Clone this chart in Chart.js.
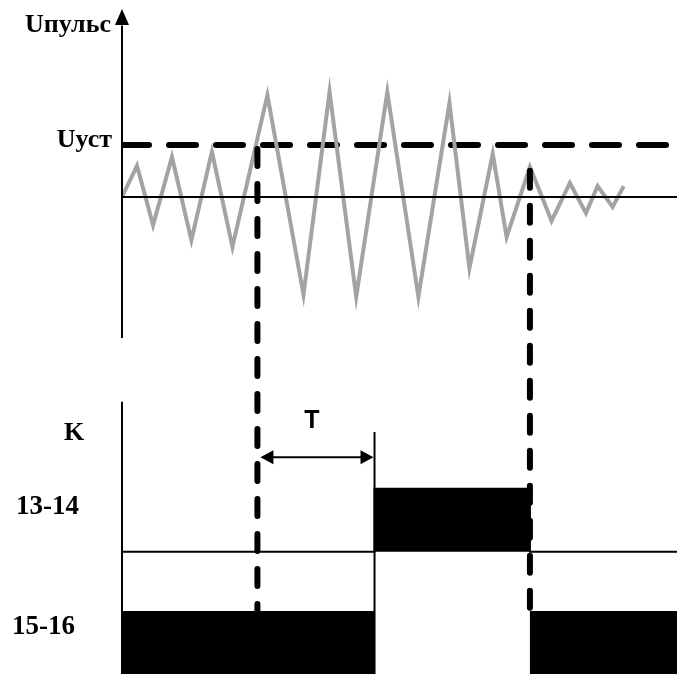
<!DOCTYPE html>
<html>
<head>
<meta charset="utf-8">
<script src="https://cdn.jsdelivr.net/npm/chart.js@4"></script>
<style>
  html, body { margin: 0; padding: 0; background: #fff; }
  canvas { display: block; }
</style>
</head>
<body>
<canvas id="relayChart" width="677" height="674"></canvas>
<script>
// time axis in ms, pulse voltage in units of Uуст
const timeMs = [0, 2.7, 5.6, 9.0, 12.5, 16.2, 19.9, 26.2, 32.7, 37.4, 42.2, 47.8, 53.4, 59.0, 62.6, 66.8, 69.3, 73.5, 77.4, 80.7, 83.6, 85.7, 88.4, 90.4];
const pulseU = [0, 0.60, -0.54, 0.77, -0.83, 0.87, -0.96, 1.96, -1.88, 2.02, -1.92, 2.02, -1.92, 1.81, -1.37, 0.83, -0.77, 0.58, -0.46, 0.27, -0.31, 0.21, -0.19, 0.21];
const uSet = 1;

// relay contacts: switching moments and state on each interval
const relayTimes = [0, 45.5, 73.5, 100];
const relay1314 = [0, 1, 0];
const relay1516 = [1, 0, 1];
const relayLabels = ["13-14", "15-16"];

// moment U crosses Uуст, delay T, moment of release
const pickupTime = 24.4;
const delayT = 21.1;
const releaseTime = 73.5;
const releaseU = 0.58;

// vertical placement of the lanes on the relay axis
const LANE_1314 = 1.94;
const LANE_1516 = 0;

function relayPoints(states, base) {
  const pts = [];
  states.forEach((s, i) => {
    pts.push({ x: relayTimes[i], y: base + s });
    pts.push({ x: relayTimes[i + 1], y: base + s });
  });
  return pts;
}

const overlay = {
  id: "overlay",
  afterDatasetsDraw(chart) {
    const { ctx } = chart;
    const { x, yU, yK } = chart.scales;
    const x0 = x.getPixelForValue(0);

    ctx.save();
    ctx.strokeStyle = "#000";
    ctx.fillStyle = "#000";

    // vertical axes
    ctx.lineWidth = 2;
    ctx.beginPath();
    ctx.moveTo(x0, yU.getPixelForValue(3.3));
    ctx.lineTo(x0, yU.getPixelForValue(-2.71));
    ctx.moveTo(x0, yK.getPixelForValue(4.32));
    ctx.lineTo(x0, yK.getPixelForValue(0));
    ctx.stroke();

    // arrow on the U axis
    const tip = yU.getPixelForValue(3.615);
    ctx.beginPath();
    ctx.moveTo(x0, tip);
    ctx.lineTo(x0 - 7, tip + 16);
    ctx.lineTo(x0 + 7, tip + 16);
    ctx.closePath();
    ctx.fill();

    // dashed verticals from the pulse to the relay
    ctx.lineWidth = 6;
    ctx.lineCap = "round";
    ctx.setLineDash([17, 18]);
    [[pickupTime, uSet], [releaseTime, releaseU]].forEach(([t, u]) => {
      const px = x.getPixelForValue(t);
      ctx.beginPath();
      ctx.moveTo(px, yU.getPixelForValue(u) + 4);
      ctx.lineTo(px, yK.getPixelForValue(1));
      ctx.stroke();
    });
    ctx.setLineDash([]);
    ctx.lineCap = "butt";

    // T marker line and double arrow
    const tEnd = x.getPixelForValue(pickupTime + delayT);
    ctx.lineWidth = 2;
    ctx.beginPath();
    ctx.moveTo(tEnd, yK.getPixelForValue(3.84));
    ctx.lineTo(tEnd, yK.getPixelForValue(0));
    ctx.stroke();

    const ay = yK.getPixelForValue(3.44);
    const aL = x.getPixelForValue(pickupTime) + 3;
    const aR = tEnd - 1;
    ctx.beginPath();
    ctx.moveTo(aL + 10, ay);
    ctx.lineTo(aR - 10, ay);
    ctx.stroke();
    ctx.beginPath();
    ctx.moveTo(aL, ay);
    ctx.lineTo(aL + 13, ay - 7);
    ctx.lineTo(aL + 13, ay + 7);
    ctx.closePath();
    ctx.moveTo(aR, ay);
    ctx.lineTo(aR - 13, ay - 7);
    ctx.lineTo(aR - 13, ay + 7);
    ctx.closePath();
    ctx.fill();

    // labels
    ctx.textBaseline = "alphabetic";
    ctx.textAlign = "right";
    ctx.font = "bold 26px 'Liberation Serif', serif";
    ctx.fillText("Uпульс", 111, 32);
    ctx.fillText("Uуст", 112, yU.getPixelForValue(uSet) + 2);
    ctx.textAlign = "left";
    ctx.fillText("K", 64, 440);
    ctx.font = "bold 27px 'Liberation Serif', serif";
    ctx.fillText(relayLabels[0], 16, 514);
    ctx.fillText(relayLabels[1], 12, 634);

    ctx.textAlign = "center";
    ctx.font = "bold 25px 'Liberation Sans', sans-serif";
    ctx.fillText("T", (aL + aR) / 2 - 5, 428);

    ctx.restore();
  }
};

new Chart(document.getElementById("relayChart"), {
  type: "line",
  data: {
    datasets: [
      {
        label: "base",
        data: [{ x: 0, y: 0 }, { x: 100, y: 0 }],
        yAxisID: "yU",
        borderColor: "#000",
        borderWidth: 2,
        order: 1
      },
      {
        label: "U пульс",
        data: timeMs.map((t, i) => ({ x: t, y: pulseU[i] })),
        yAxisID: "yU",
        borderColor: "#a3a3a3",
        borderWidth: 4,
        order: 2
      },
      {
        label: "U уст",
        data: [{ x: 0, y: uSet }, { x: 100, y: uSet }],
        yAxisID: "yU",
        borderColor: "#000",
        borderWidth: 6,
        borderDash: [27, 20],
        borderCapStyle: "round",
        order: 3
      },
      {
        label: relayLabels[0],
        data: relayPoints(relay1314, LANE_1314),
        yAxisID: "yK",
        borderColor: "#000",
        borderWidth: 2,
        backgroundColor: "#000",
        fill: { value: LANE_1314 },
        order: 4
      },
      {
        label: relayLabels[1],
        data: relayPoints(relay1516, LANE_1516),
        yAxisID: "yK",
        borderColor: "rgba(0,0,0,0)",
        borderWidth: 0,
        backgroundColor: "#000",
        fill: { value: LANE_1516 },
        order: 5
      }
    ]
  },
  options: {
    responsive: false,
    animation: false,
    events: [],
    layout: { padding: { left: 122, right: 0, top: 0, bottom: 0 } },
    elements: {
      point: { radius: 0 },
      line: { tension: 0 }
    },
    scales: {
      x: { type: "linear", min: 0, max: 100, display: false },
      yU: { type: "linear", min: -9.173, max: 3.7885, display: false },
      yK: { type: "linear", min: 0, max: 10.698, display: false }
    },
    plugins: {
      legend: { display: false },
      tooltip: { enabled: false }
    }
  },
  plugins: [overlay]
});
</script>
</body>
</html>
